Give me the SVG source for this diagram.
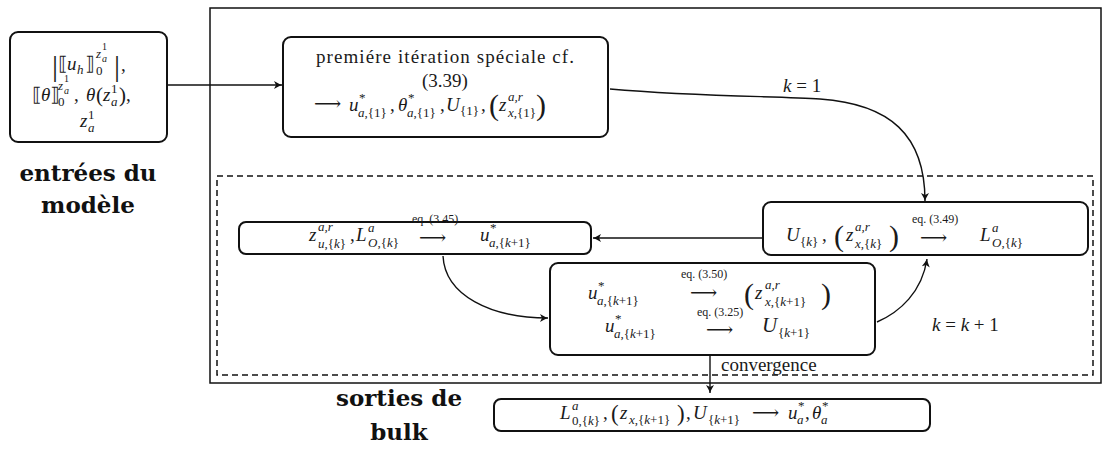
<svg xmlns="http://www.w3.org/2000/svg" width="1109" height="453" viewBox="0 0 1109 453">
<style>
.t{font-family:"Liberation Serif","DejaVu Serif","DejaVu Sans",serif;font-size:19px;fill:#1a1a1a}
.i{font-style:italic}
.s{font-size:13px}
.ss{font-size:10px}
.eq{font-size:12px}
.bp{font-size:30px}
.lb{font-family:"DejaVu Serif","Liberation Serif",serif;font-weight:bold;font-size:23px;fill:#111}
.box{fill:#fff;stroke:#111;stroke-width:2}
.ar{fill:none;stroke:#111;stroke-width:1.4;marker-end:url(#ah)}
</style>
<defs>
<marker id="ah" viewBox="-9 -5 11 10" refX="0" refY="0" markerWidth="11" markerHeight="10" orient="auto" markerUnits="userSpaceOnUse">
<path d="M-8,-4 Q-3,-1 0,0 Q-3,1 -8,4 L-6,0 Z" fill="#111"/>
</marker>
</defs>

<g id="frames">
<rect x="210" y="8" width="891" height="375" fill="none" stroke="#111" stroke-width="1.5"/>
<rect x="217" y="176" width="876" height="199" fill="none" stroke="#111" stroke-width="1.5" stroke-dasharray="6,4"/>
</g>

<g id="connectors">
<path class="ar" d="M168,85 L282,85"/>
<path class="ar" d="M610,89 C700,97 780,96 820,99 C890,104 925,135 925,201"/>
<path class="ar" d="M762,238 L593,238"/>
<path class="ar" d="M443,256 C445,295 490,318 548,318"/>
<path class="ar" d="M877,322 C900,312 922,292 927,259"/>
<path class="ar" d="M710,356 L710,393"/>
<text class="t i" x="783" y="92">k <tspan font-style="normal">= 1</tspan></text>
<text class="t i" x="932" y="331">k <tspan font-style="normal">= </tspan>k<tspan font-style="normal"> + 1</tspan></text>
<text class="t" x="721" y="371" font-size="15">convergence</text>
</g>

<g id="node-entrees">
<rect class="box" x="10" y="32" width="157" height="110" rx="8"/>
<text class="t">
<tspan x="52" y="76" class="bp">|</tspan><tspan x="58" y="70">⟦</tspan><tspan x="67" y="70" class="i">u</tspan><tspan x="77" y="74" class="i s">h</tspan><tspan x="85" y="70">⟧</tspan><tspan x="96" y="75" class="s">0</tspan><tspan x="96" y="58" class="i s">z</tspan><tspan x="102" y="62" class="i ss">a</tspan><tspan x="102" y="50" class="ss">1</tspan><tspan x="114" y="76" class="bp">|</tspan><tspan x="121" y="71">,</tspan>
<tspan x="32" y="101">⟦</tspan><tspan x="41" y="101" class="i">θ</tspan><tspan x="50" y="101">⟧</tspan><tspan x="58" y="106" class="s">0</tspan><tspan x="58" y="90" class="i s">z</tspan><tspan x="64" y="94" class="i ss">a</tspan><tspan x="64" y="82" class="ss">1</tspan><tspan x="74" y="101">,</tspan><tspan x="86" y="101" class="i">θ</tspan><tspan x="96" y="102" font-size="21">(</tspan><tspan x="103" y="101" class="i">z</tspan><tspan x="111" y="106" class="i s">a</tspan><tspan x="111" y="93" class="s">1</tspan><tspan x="119" y="102" font-size="21">)</tspan><tspan x="126" y="101">,</tspan>
<tspan x="80" y="127" class="i">z</tspan><tspan x="88" y="132" class="i s">a</tspan><tspan x="88" y="119" class="s">1</tspan>
</text>
</g>
<text class="lb" x="88" y="181" text-anchor="middle">entrées du</text>
<text class="lb" x="88" y="213" text-anchor="middle">modèle</text>

<g id="node-premiere">
<rect class="box" x="283" y="37" width="325" height="100" rx="8"/>
<text class="t" x="445" y="63" text-anchor="middle" font-size="20" textLength="258" lengthAdjust="spacing">premiére itération spéciale cf.</text>
<text class="t" x="445" y="87" text-anchor="middle" font-size="20">(3.39)</text>
<text class="t">
<tspan x="314" y="110">⟶</tspan>
<tspan x="349" y="111" class="i">u</tspan><tspan x="359" y="102" class="s">*</tspan><tspan x="358" y="117" class="i s">a</tspan><tspan class="s">,{1}</tspan><tspan x="390" y="111">,</tspan>
<tspan x="398" y="111" class="i">θ</tspan><tspan x="408" y="102" class="s">*</tspan><tspan x="407" y="117" class="i s">a</tspan><tspan class="s">,{1}</tspan><tspan x="440" y="111">,</tspan>
<tspan x="446" y="111" class="i">U</tspan><tspan x="460" y="115" class="s">{1}</tspan><tspan x="481" y="111">,</tspan>
<tspan x="489" y="115" class="bp">(</tspan><tspan x="499" y="111" class="i">z</tspan><tspan x="508" y="101" class="i s">a,r</tspan><tspan x="508" y="117" class="i s">x</tspan><tspan class="s">,{1}</tspan><tspan x="536" y="115" class="bp">)</tspan>
</text>
</g>

<g id="node-uk">
<rect class="box" x="763" y="202" width="325" height="53" rx="8"/>
<text class="t">
<tspan x="786" y="241" class="i">U</tspan><tspan x="800" y="246" class="s">{</tspan><tspan class="i s">k</tspan><tspan class="s">}</tspan><tspan x="822" y="241">,</tspan>
<tspan x="834" y="246" class="bp">(</tspan><tspan x="846" y="241" class="i">z</tspan><tspan x="855" y="231" class="i s">a,r</tspan><tspan x="855" y="248" class="i s">x</tspan><tspan class="s">,{</tspan><tspan class="i s">k</tspan><tspan class="s">}</tspan><tspan x="889" y="246" class="bp">)</tspan>
<tspan x="912" y="223" class="eq">eq. (3.49)</tspan>
<tspan x="920" y="244">⟶</tspan>
<tspan x="980" y="241" class="i">L</tspan><tspan x="992" y="232" class="i s">a</tspan><tspan x="992" y="247" class="i s">O</tspan><tspan class="s">,{</tspan><tspan class="i s">k</tspan><tspan class="s">}</tspan>
</text>
</g>

<g id="node-zu">
<rect class="box" x="239" y="222" width="352" height="32" rx="7"/>
<text class="t">
<tspan x="309" y="241" class="i">z</tspan><tspan x="318" y="231" class="i s">a,r</tspan><tspan x="318" y="248" class="i s">u</tspan><tspan class="s">,{</tspan><tspan class="i s">k</tspan><tspan class="s">}</tspan><tspan x="350" y="241">,</tspan>
<tspan x="356" y="241" class="i">L</tspan><tspan x="368" y="232" class="i s">a</tspan><tspan x="368" y="247" class="i s">O</tspan><tspan class="s">,{</tspan><tspan class="i s">k</tspan><tspan class="s">}</tspan>
<tspan x="412" y="223" class="eq">eq. (3.45)</tspan>
<tspan x="419" y="244">⟶</tspan>
<tspan x="480" y="241" class="i">u</tspan><tspan x="490" y="232" class="s">*</tspan><tspan x="489" y="247" class="i s">a</tspan><tspan class="s">,{</tspan><tspan class="i s">k</tspan><tspan class="s">+1}</tspan>
</text>
</g>

<g id="node-center">
<rect class="box" x="550" y="263" width="325" height="92" rx="8"/>
<text class="t">
<tspan x="588" y="299" class="i">u</tspan><tspan x="598" y="290" class="s">*</tspan><tspan x="597" y="305" class="i s">a</tspan><tspan class="s">,{</tspan><tspan class="i s">k</tspan><tspan class="s">+1}</tspan>
<tspan x="681" y="278" class="eq">eq. (3.50)</tspan>
<tspan x="690" y="299">⟶</tspan>
<tspan x="744" y="304" class="bp">(</tspan><tspan x="755" y="299" class="i">z</tspan><tspan x="765" y="289" class="i s">a,r</tspan><tspan x="765" y="306" class="i s">x</tspan><tspan class="s">,{</tspan><tspan class="i s">k</tspan><tspan class="s">+1}</tspan><tspan x="821" y="304" class="bp">)</tspan>
</text>
<text class="t">
<tspan x="605" y="332" class="i">u</tspan><tspan x="615" y="323" class="s">*</tspan><tspan x="614" y="338" class="i s">a</tspan><tspan class="s">,{</tspan><tspan class="i s">k</tspan><tspan class="s">+1}</tspan>
<tspan x="697" y="316" class="eq">eq. (3.25)</tspan>
<tspan x="706" y="336">⟶</tspan>
<tspan x="762" y="332" class="i" font-size="21">U</tspan><tspan x="778" y="337" class="s">{</tspan><tspan class="i s">k</tspan><tspan class="s">+1}</tspan>
</text>
</g>

<g id="node-sorties">
<rect class="box" x="494" y="399" width="436" height="32" rx="7"/>
<text class="t">
<tspan x="560" y="419" class="i">L</tspan><tspan x="572" y="410" class="i s">a</tspan><tspan x="572" y="425" class="s">0,{</tspan><tspan class="i s">k</tspan><tspan class="s">}</tspan><tspan x="603" y="419">,</tspan>
<tspan x="611" y="421" font-size="23">(</tspan><tspan x="620" y="419" class="i">z</tspan><tspan x="629" y="424" class="i s">x</tspan><tspan class="s">,{</tspan><tspan class="i s">k</tspan><tspan class="s">+1}</tspan><tspan x="677" y="421" font-size="23">)</tspan><tspan x="686" y="419">,</tspan>
<tspan x="693" y="419" class="i">U</tspan><tspan x="708" y="424" class="s">{</tspan><tspan class="i s">k</tspan><tspan class="s">+1}</tspan>
<tspan x="752" y="419">⟶</tspan>
<tspan x="788" y="419" class="i">u</tspan><tspan x="798" y="410" class="s">*</tspan><tspan x="797" y="424" class="i s">a</tspan><tspan x="805" y="419">,</tspan>
<tspan x="812" y="419" class="i">θ</tspan><tspan x="822" y="410" class="s">*</tspan><tspan x="821" y="424" class="i s">a</tspan>
</text>
</g>
<text class="lb" x="399" y="406" text-anchor="middle">sorties de</text>
<text class="lb" x="399" y="440" text-anchor="middle">bulk</text>
</svg>
